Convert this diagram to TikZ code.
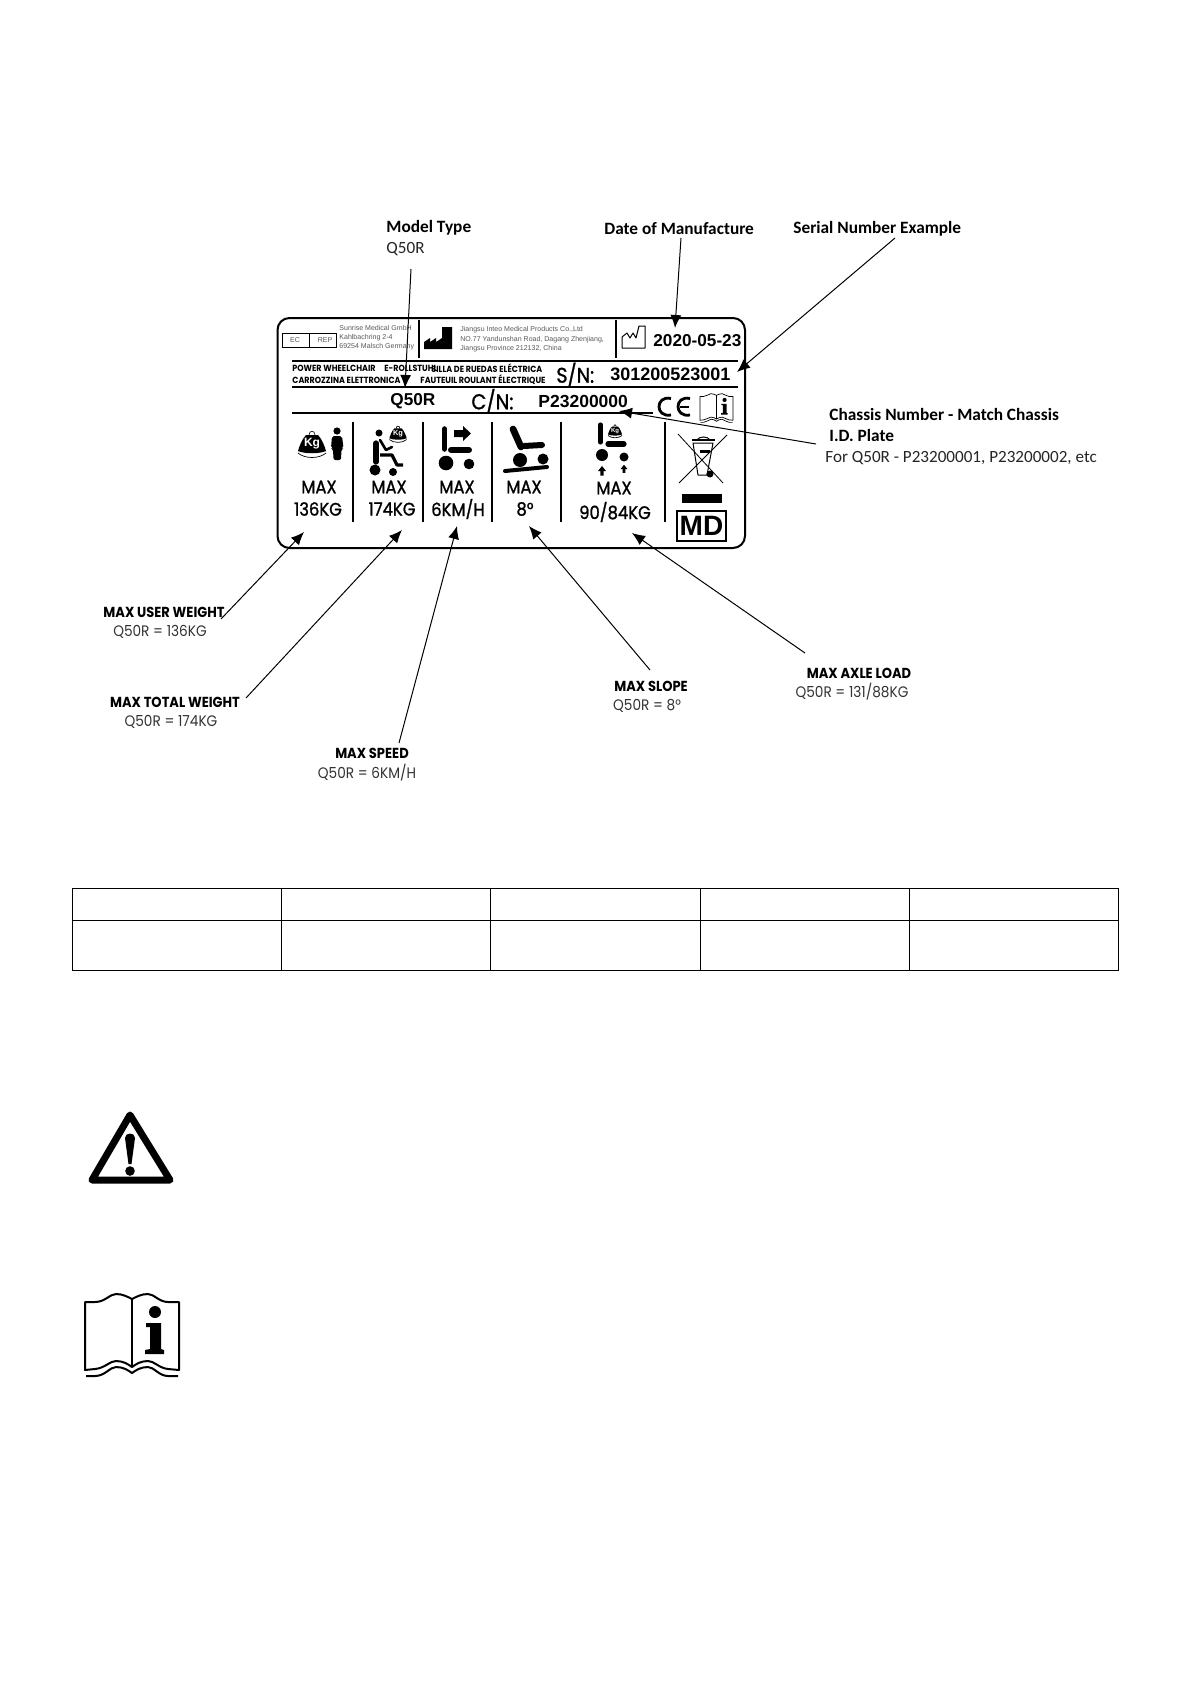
\documentclass[tikz,border=0pt]{standalone}
\usepackage{fontspec}
\usetikzlibrary{arrows.meta}
\setmainfont{Liberation Sans}
\newfontfamily\calibrifont{Carlito}
\newfontfamily\geofont[FakeStretch=0.9]{Poppins}
\newfontfamily\geomedium[FakeStretch=0.9,FakeBold=1.2]{Poppins}
\newcommand{\fsz}[1]{\fontsize{#1}{#1}\selectfont}
\tikzset{
  txt/.style={inner sep=0pt,anchor=west},
  tinytxt/.style={txt,text=black!65,font=\fsz{3.52}},
  multitxt/.style={txt,font=\geofont\bfseries\fsz{4.45}},
  platetxt/.style={inner sep=0pt,font=\fsz{8.6}\bfseries},
  maxtxt/.style={inner sep=0pt,font=\geomedium\fsz{9.1}},
  headtxt/.style={txt,font=\calibrifont\bfseries\fsz{8.65}},
  bodytxt/.style={txt,text=black!85,font=\calibrifont\fsz{8.55}},
  capstxt/.style={inner sep=0pt,font=\geofont\bfseries\fsz{7.25}},
  valtxt/.style={inner sep=0pt,text=black!80,font=\geofont\fsz{7.6}},
  callout/.style={-{Latex[length=6.5pt,width=5.5pt]},line width=.5pt},
  rule/.style={line width=.9pt},
  divider/.style={line width=.8pt},
  bookpen/.style={line width=1pt},
  kgweight/.pic={
    \fill (-6,-9) -- (6,-9) .. controls (10,-5) and (13,3) .. (14,7)
      .. controls (7,10) and (-7,10) .. (-14,7) .. controls (-13,3) and (-10,-5) .. (-6,-9) -- cycle;
    \draw[line width=.35pt] (-14,9) .. controls (-7,15) and (7,15) .. (14,9);
    \draw[line width=.3pt] (-3,-9) .. controls (-3,-14) and (3,-14) .. (3,-9);
    \node[transform shape,inner sep=0pt,text=white,font=\bfseries\fsz{6}] (kg) at (0,0) {Kg};
  },
  infobook/.pic={
    \draw[bookpen,line join=round] (-47,35) -- (-47,-33) -- (-37,-33) .. controls (-27,-33) and (-22,-41) .. (-16,-41)
      .. controls (-9,-41) and (-4,-38) .. (0,-36) .. controls (4,-38) and (9,-41) .. (16,-41)
      .. controls (22,-41) and (27,-33) .. (36,-33) -- (47,-33) -- (47,35) -- (36,34)
      .. controls (27,33) and (22,26) .. (16,26) .. controls (9,26) and (4,29) .. (0,32)
      .. controls (-4,29) and (-9,26) .. (-16,26) .. controls (-22,26) and (-27,33) .. (-37,34) -- cycle;
    \draw[bookpen] (0,-36) -- (0,32);
    \draw[bookpen] (-46,41) -- (-37,41) .. controls (-27,41) and (-22,32) .. (-16,32)
      .. controls (-9,32) and (-4,35) .. (0,38) .. controls (4,35) and (9,32) .. (16,32)
      .. controls (22,32) and (27,41) .. (36,41) -- (46,41);
    \fill (23,-23) circle (6);
    \fill (14,-12) -- (29,-12) -- (29,14) -- (32,15) -- (32,19) -- (13,19) -- (13,15) -- (18,14)
      -- (18,-8) -- (14,-8) -- cycle;
  },
  uparrow/.pic={
    \fill (0,-5) -- (4,0) -- (1.6,0) -- (1.6,4.5) -- (-1.6,4.5) -- (-1.6,0) -- (-4,0) -- cycle;
  }
}
\begin{document}
\begin{tikzpicture}[x=.5pt,y=-.5pt]
  \useasboundingbox (0,0) rectangle (1192,1685);
  \fill[white] (0,0) rectangle (1192,1685);

  \draw[line width=1pt,rounded corners=6pt] (277.5,318) rectangle (745,548);

  \draw[line width=.5pt] (282,333) rectangle (336,347);
  \draw[line width=.5pt] (309,333) -- (309,347);
  \node[tinytxt,anchor=center] (ecbox) at (295,340) {EC};
  \node[tinytxt,anchor=center] (repbox) at (325,340) {REP};
  \node[tinytxt] (rep1) at (339,328) {Sunrise Medical GmbH};
  \node[tinytxt] (rep2) at (339,338) {Kahlbachring 2-4};
  \node[tinytxt] (rep3) at (339,347) {69254 Malsch Germany};
  \draw[divider] (419,320) -- (419,358);
  \fill (424,349) -- (424,342) -- (430,338) -- (430,342) -- (436,338) -- (436,342) -- (442,338)
    -- (442,327) -- (452,327) -- (452,349) -- cycle;
  \node[tinytxt] (maker1) at (460,330) {Jiangsu Inteo Medical Products Co.,Ltd};
  \node[tinytxt] (maker2) at (460,340) {NO.77 Yandunshan Road, Dagang Zhenjiang,};
  \node[tinytxt] (maker3) at (460,349) {Jiangsu Province 212132, China};
  \draw[divider] (616,320) -- (616,358);
  \draw[line width=.5pt,line join=round] (622,348) -- (622,337) -- (627,333) -- (630,338) -- (633,333)
    -- (636,338) -- (639,326) -- (645,326) -- (645,348) -- cycle;
  \node[platetxt,anchor=west] (datemade) at (653,341) {2020-05-23};

  \draw[rule] (292,361) -- (738,361);
  \node[multitxt] (powerchair) at (292,368) {POWER WHEELCHAIR};
  \node[multitxt] (rollstuhl) at (384,368) {E-ROLLSTUHL};
  \node[multitxt] (silla) at (431,368) {SILLA DE RUEDAS ELÉCTRICA};
  \node[multitxt] (carrozzina) at (292,380) {CARROZZINA ELETTRONICA};
  \node[multitxt] (fauteuil) at (420,380) {FAUTEUIL ROULANT ÉLECTRIQUE};
  \node[platetxt,anchor=west,font=\geomedium\fsz{10.6}] (snlabel) at (556,374.5) {S/N:};
  \node[platetxt,anchor=west,font=\bfseries\fsz{9}] (snvalue) at (610,374.5) {301200523001};
  \draw[rule] (292,387) -- (738,387);
  \node[platetxt,anchor=west] (modelcode) at (390,401) {Q50R};
  \node[platetxt,anchor=west,font=\geomedium\fsz{10.8}] (cnlabel) at (471,401) {C/N:};
  \node[platetxt,anchor=west,font=\bfseries\fsz{8.75}] (cnvalue) at (538,401) {P23200000};
  \draw[rule] (292,413) -- (653,413);
  \draw[line width=1.4pt] (671,398.5) .. controls (655,395) and (655,418) .. (671,415);
  \draw[line width=1.4pt] (690,398.5) .. controls (674,395) and (674,418) .. (690,415);
  \draw[line width=1pt] (680,407) -- (689,407);
  \pic[scale=.35,bookpen/.style={line width=.35pt}] at (716.5,408) {infobook};

  \draw[divider] (353,422) -- (353,522);
  \draw[divider] (423,422) -- (423,522);
  \draw[divider] (492,422) -- (492,522);
  \draw[divider] (561,422) -- (561,522);
  \draw[divider] (665,422) -- (665,522);

  \pic at (312,444) {kgweight};
  \fill (337,431) circle (3.6);
  \fill[rounded corners=1pt] (332,436) -- (342,436) -- (343.5,448) -- (341.5,449) -- (341,460)
    -- (333.5,460) -- (333,449) -- (331,448) -- cycle;

  \pic[scale=.62] at (398,434) {kgweight};
  \fill (379,433) circle (3.5);
  \draw[line width=2.6pt,line cap=round] (376,443) -- (376,462);
  \draw[line width=1.3pt,line join=round,line cap=round] (380,440) -- (386,450) -- (392,447);
  \draw[line width=1.6pt,line join=round] (380,455) -- (392,455) -- (397,465) -- (403,465);
  \fill (375,470) circle (5.5);
  \fill (393,472) circle (4);

  \draw[line width=2.8pt,line cap=round] (444.5,429) -- (444.5,449);
  \draw[line width=3pt,line cap=round] (451,450) -- (469,450);
  \fill (446,463) circle (7.3);
  \fill (469,464) circle (5.3);
  \fill (454,430) -- (463,430) -- (463,426) -- (471,433.5) -- (463,441) -- (463,437) -- (454,437) -- cycle;

  \draw[line width=3.4pt,line cap=round] (513,429) -- (521,447);
  \draw[line width=3pt,line cap=round] (524,446) -- (542,445);
  \fill (520,460) circle (7);
  \fill (543,459) circle (5.5);
  \draw[line width=2pt,line cap=round] (505,471) -- (547,467);

  \pic[scale=.5] at (615,431) {kgweight};
  \draw[line width=2.6pt,line cap=round] (600.5,425) -- (600.5,442);
  \draw[line width=2.6pt,line cap=round] (608,444) -- (624,444);
  \fill (602,455) circle (6);
  \fill (624,457) circle (4.5);
  \pic at (602,471) {uparrow};
  \pic[scale=.85] at (624,469) {uparrow};

  \draw[line width=.4pt] (678,434) -- (723,483);
  \draw[line width=.4pt] (727,435) -- (679,483);
  \draw[line width=.5pt,line join=round] (693,443) -- (713,443) -- (707,475) -- (698,475) -- cycle;
  \draw[line width=.8pt] (692,440) -- (715,440);
  \draw[line width=.5pt] (697,440) .. controls (699,436) and (708,436) .. (710,440);
  \fill (700,450) rectangle (710,453);
  \fill (710,474) circle (3.5);
  \fill (682,494) rectangle (722,503);
  \draw[line width=.7pt] (677,511) rectangle (726,541);
  \node[inner sep=0pt,font=\bfseries\fsz{14}] (mdmark) at (701.5,526) {MD};

  \node[maxtxt] (max1) at (319,487) {MAX};
  \node[maxtxt] (max2) at (389,487) {MAX};
  \node[maxtxt] (max3) at (457,487) {MAX};
  \node[maxtxt] (max4) at (524,487) {MAX};
  \node[maxtxt] (max5) at (614,488) {MAX};
  \node[maxtxt] (val1) at (318,509) {136KG};
  \node[maxtxt] (val2) at (392,509) {174KG};
  \node[maxtxt] (val3) at (458,509) {6KM/H};
  \node[maxtxt] (val4) at (525,509) {8°};
  \node[maxtxt] (val5) at (615,512) {90/84KG};

  \node[headtxt] (modeltype) at (386,228) {Model Type};
  \node[bodytxt] (modelvalue) at (386,249) {Q50R};
  \node[headtxt] (datehead) at (604,229) {Date of Manufacture};
  \node[headtxt] (serialhead) at (793,229) {Serial Number Example};
  \node[headtxt] (chassis1) at (829,414) {Chassis Number - Match Chassis};
  \node[headtxt] (chassis2) at (829,435) {I.D. Plate};
  \node[bodytxt] (chassis3) at (825,458) {For Q50R - P23200001, P23200002, etc};

  \node[capstxt] (userhead) at (164,612) {MAX USER WEIGHT};
  \node[valtxt] (userval) at (160,632) {Q50R = 136KG};
  \node[capstxt] (totalhead) at (175,702) {MAX TOTAL WEIGHT};
  \node[valtxt] (totalval) at (171,722) {Q50R = 174KG};
  \node[capstxt] (speedhead) at (372,753) {MAX SPEED};
  \node[valtxt] (speedval) at (367,773) {Q50R = 6KM/H};
  \node[capstxt] (slopehead) at (651,686) {MAX SLOPE};
  \node[valtxt] (slopeval) at (647,706) {Q50R = 8°};
  \node[capstxt] (axlehead) at (859,673) {MAX AXLE LOAD};
  \node[valtxt] (axleval) at (852,692) {Q50R = 131/88KG};

  \coordinate (modelfrom) at (411,269);
  \coordinate (modeltip) at (405,388);
  \coordinate (datefrom) at (681,238);
  \coordinate (datetip) at (675,328);
  \coordinate (serialfrom) at (895,238);
  \coordinate (serialtip) at (737,372);
  \coordinate (chassisfrom) at (816,444);
  \coordinate (chassistip) at (619,411);
  \coordinate (userfrom) at (221,619);
  \coordinate (usertip) at (304,532);
  \coordinate (totalfrom) at (246,698);
  \coordinate (totaltip) at (402,530);
  \coordinate (speedfrom) at (399,743);
  \coordinate (speedtip) at (457,526);
  \coordinate (slopefrom) at (650,670);
  \coordinate (slopetip) at (529,526);
  \coordinate (axlefrom) at (805,653);
  \coordinate (axletip) at (632,533);
  \draw[callout] (modelfrom) -- (modeltip);
  \draw[callout] (datefrom) -- (datetip);
  \draw[callout] (serialfrom) -- (serialtip);
  \draw[callout] (chassisfrom) -- (chassistip);
  \draw[callout] (userfrom) -- (usertip);
  \draw[callout] (totalfrom) -- (totaltip);
  \draw[callout] (speedfrom) -- (speedtip);
  \draw[callout] (slopefrom) -- (slopetip);
  \draw[callout] (axlefrom) -- (axletip);

  \draw[line width=.5pt] (72,888) rectangle (1118,970);
  \draw[line width=.5pt] (72,920) -- (1118,920);
  \foreach \colx in {281.5,490.5,700,909}
    \draw[line width=.5pt] (\colx,888) -- (\colx,970);

  \draw[line width=3.5pt,line join=round] (130,1115) -- (92,1180) -- (170,1180) -- cycle;
  \fill (125,1138) .. controls (125,1132) and (135,1132) .. (135,1138) -- (131.5,1164) -- (128.5,1164) -- cycle;
  \fill (130,1171) circle (4.8);

  \pic at (132,1335) {infobook};
\end{tikzpicture}
\end{document}
